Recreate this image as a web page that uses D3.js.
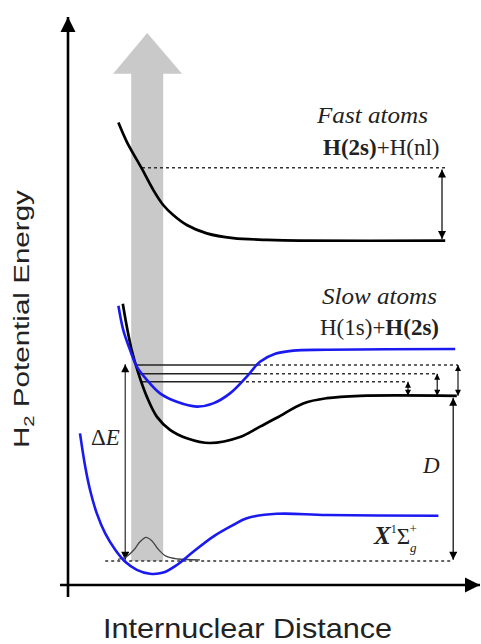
<!DOCTYPE html>
<html><head><meta charset="utf-8">
<script src="https://cdn.jsdelivr.net/npm/d3@7"></script>
<style>html,body{margin:0;padding:0;background:#fff;}svg{display:block;}</style>
</head><body>
<svg id="c" width="481" height="644"></svg>
<script>
// ---- data (schematic units: distance, energy) ----
const fastCurve = [[1.26,11.56],[1.47,11.08],[1.84,10.42],[2.13,9.88],[2.38,9.50],[2.63,9.25],[2.97,9.00],[3.47,8.79],[4.13,8.67],[4.97,8.63],[5.80,8.61],[9.43,8.61]];
const slowBlue = [[1.26,6.98],[1.38,6.38],[1.55,5.88],[1.72,5.46],[1.97,5.13],[2.30,4.79],[2.72,4.58],[3.22,4.46],[3.63,4.54],[4.05,4.79],[4.47,5.21],[4.80,5.58],[5.18,5.78],[5.63,5.86],[6.47,5.88],[9.68,5.90]];
const slowBlack = [[1.37,7.03],[1.47,6.46],[1.59,5.88],[1.76,5.29],[1.97,4.71],[2.22,4.21],[2.55,3.88],[2.97,3.67],[3.55,3.55],[4.30,3.70],[4.80,3.96],[5.22,4.18],[5.88,4.54],[6.47,4.67],[7.30,4.73],[9.72,4.73]];
const groundBlue = [[0.30,3.79],[0.43,2.96],[0.55,2.38],[0.72,1.79],[0.93,1.29],[1.18,0.88],[1.43,0.58],[1.72,0.38],[2.05,0.28],[2.38,0.31],[2.72,0.50],[3.13,0.83],[3.63,1.21],[4.13,1.50],[4.47,1.67],[5.22,1.78],[6.47,1.75],[9.26,1.73]];
const wavefunction = [[1.25,0.64],[1.45,0.70],[1.65,0.88],[1.80,1.08],[1.95,1.19],[2.10,1.10],[2.25,0.90],[2.45,0.72],[2.75,0.65],[3.30,0.63]];
const levelEnergy = [5.50, 5.28, 5.08];
const levelStart = [1.72, 1.77, 1.82];
const levelSolidEnd = [4.75, 4.75, 4.30];
const levelDottedEnd = [9.75, 9.23, 8.50];
const slowLimit = 4.73;
const fastLimit = 8.61;
const fastLevel = 10.43, fastLevelStart = 1.85, fastLevelEnd = 9.43, fastArrowX = 9.35;
const groundLevel = 0.60, groundStart = 0.93, groundEnd = 9.60;
const dArrowX = 9.63, dEArrowX = 1.43;
const excitationArrow = {left:1.58, right:2.38, headLeft:1.13, headRight:2.85, headBase:12.78, tipX:1.98, tipY:13.8, bottom:0.60};
const xAxisExtent = [-0.2, 10.3], yAxisExtent = [-0.3, 14.2];

// ---- scales ----
const x = d3.scaleLinear().domain([0,10]).range([68,468]);
const y = d3.scaleLinear().domain([0,14]).range([585,25]);
const svg = d3.select('#c');
const blue = '#1a1af0';

const defs = svg.append('defs');
function marker(id, w, h, col){
  defs.append('marker').attr('id',id).attr('viewBox','0 0 10 10').attr('refX',10).attr('refY',5)
    .attr('markerUnits','userSpaceOnUse').attr('markerWidth',w).attr('markerHeight',h)
    .attr('orient','auto-start-reverse')
    .append('path').attr('d','M0,0 L10,5 L0,10 Z').attr('fill',col);
}
marker('axisHead',15,16,'#000');
marker('head',10,8,'#000');
marker('smallHead',7,6,'#000');

// gray excitation arrow
const ea = excitationArrow;
const arrowPts = [[ea.left,ea.bottom],[ea.left,ea.headBase],[ea.headLeft,ea.headBase],[ea.tipX,ea.tipY],[ea.headRight,ea.headBase],[ea.right,ea.headBase],[ea.right,ea.bottom]];
svg.append('path').attr('d', d3.line().x(d=>x(d[0])).y(d=>y(d[1]))(arrowPts)+'Z').attr('fill','#c9c9c9');

const line = d3.line().x(d=>x(d[0])).y(d=>y(d[1])).curve(d3.curveCatmullRom.alpha(0.5));

// axes
svg.append('line').attr('x1',x(0)).attr('x2',x(0)).attr('y1',y(yAxisExtent[0])).attr('y2',y(yAxisExtent[1]))
  .attr('stroke','#000').attr('stroke-width',2.6).attr('marker-end','url(#axisHead)');
svg.append('line').attr('x1',x(xAxisExtent[0])).attr('x2',x(xAxisExtent[1])).attr('y1',y(0)).attr('y2',y(0))
  .attr('stroke','#000').attr('stroke-width',2.6).attr('marker-end','url(#axisHead)');

// dotted lines
const dot = {stroke:'#333','stroke-width':1.5,'stroke-dasharray':'3,3'};
function hline(x1,x2,v,style){ const l=svg.append('line').attr('x1',x(x1)).attr('x2',x(x2)).attr('y1',y(v)).attr('y2',y(v)); for(const k in style) l.attr(k,style[k]); return l; }
hline(fastLevelStart, fastLevelEnd, fastLevel, dot);
hline(groundStart, groundEnd, groundLevel, dot);
levelEnergy.forEach((e,i)=>{
  hline(levelSolidEnd[i], levelDottedEnd[i], e, dot);
  hline(levelStart[i], levelSolidEnd[i], e, {stroke:'#222','stroke-width':1.6});
});

// vertical arrows
function varrow(u, v1, v2, mk, w){
  svg.append('line').attr('x1',x(u)).attr('x2',x(u)).attr('y1',y(v1)).attr('y2',y(v2))
    .attr('stroke','#000').attr('stroke-width',w).attr('marker-start','url(#'+mk+')').attr('marker-end','url(#'+mk+')');
}
varrow(fastArrowX, fastLevel-0.04, fastLimit+0.04, 'head', 1.2);
levelEnergy.forEach((e,i)=> varrow(levelDottedEnd[i], e, slowLimit, 'smallHead', 1.1));
varrow(dArrowX, slowLimit-0.05, groundLevel+0.03, 'head', 1.2);
varrow(dEArrowX, levelEnergy[0]+0.02, groundLevel+0.03, 'head', 1.0);

// wavefunction
svg.append('path').attr('d',line(wavefunction)).attr('fill','none').attr('stroke','#444').attr('stroke-width',1.3);

// curves
svg.append('path').attr('d',line(fastCurve)).attr('fill','none').attr('stroke','#000').attr('stroke-width',2.7);
svg.append('path').attr('d',line(slowBlack)).attr('fill','none').attr('stroke','#000').attr('stroke-width',2.7);
svg.append('path').attr('d',line(slowBlue)).attr('fill','none').attr('stroke',blue).attr('stroke-width',2.6);
svg.append('path').attr('d',line(groundBlue)).attr('fill','none').attr('stroke',blue).attr('stroke-width',2.6);

// labels
const serif = 'Liberation Serif, Times New Roman, serif';
const sans = 'Liberation Sans, Arial, sans-serif';
function txt(px,py,size,fam){ return svg.append('text').attr('x',px).attr('y',py).attr('font-size',size).attr('font-family',fam).attr('fill','#222'); }

txt(317,123,23,serif).attr('font-style','italic').attr('textLength',111).attr('lengthAdjust','spacingAndGlyphs').text('Fast atoms');
let t = txt(323,155,23,serif);
t.append('tspan').attr('font-weight','bold').text('H(2s)');
t.append('tspan').text('+H(nl)');
txt(322,304,23,serif).attr('font-style','italic').attr('textLength',115).attr('lengthAdjust','spacingAndGlyphs').text('Slow atoms');
t = txt(320,335,23,serif);
t.append('tspan').text('H(1s)+');
t.append('tspan').attr('font-weight','bold').text('H(2s)');

t = txt(91,445,23,serif);
t.append('tspan').text('Δ');
t.append('tspan').attr('font-style','italic').text('E');
txt(423,473,23,serif).attr('font-style','italic').text('D');

t = txt(374,544,25,serif);
t.append('tspan').attr('font-style','italic').attr('font-weight','bold').text('X');
t.append('tspan').attr('font-size',12).attr('dy',-11).text('1');
t.append('tspan').attr('font-size',23).attr('dy',11).text('Σ');
t.append('tspan').attr('font-size',13).attr('font-style','italic').attr('dy',8).text('g');
t.append('tspan').attr('font-size',13).attr('dx',-7).attr('dy',-19).text('+');

// axis titles
svg.append('text').attr('x',103).attr('y',637.5).attr('font-family',sans).attr('font-size',28)
  .attr('fill','#222').attr('textLength',289).attr('lengthAdjust','spacingAndGlyphs').text('Internuclear Distance');
const yt = svg.append('text').attr('font-family',sans).attr('font-size',22).attr('fill','#222');
yt.append('tspan').text('H');
yt.append('tspan').attr('font-size',15).attr('dy',5).text('2');
yt.append('tspan').attr('dy',-5).text(' Potential Energy');
const w = yt.node().getComputedTextLength();
yt.attr('transform',`translate(29,448) rotate(-90) scale(${258/w},1)`);
</script>
</body></html>
